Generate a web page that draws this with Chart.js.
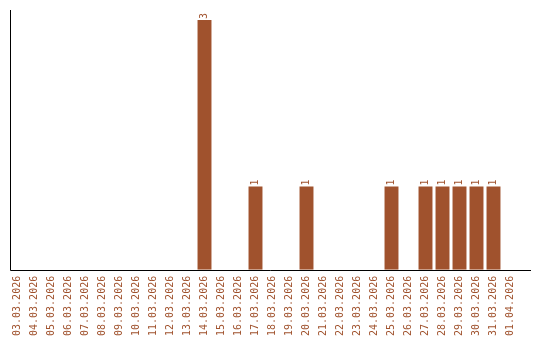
<!DOCTYPE html>
<html>
<head>
<meta charset="utf-8">
<script src="https://cdn.jsdelivr.net/npm/chart.js@4"></script>
<style>
    html, body { margin: 0; padding: 0; background: #fff; }
    #wrap { width: 540px; height: 340px; }
</style>
</head>
<body>
<div id="wrap"><canvas id="dateChart"></canvas></div>
<script>
// Data
const dates = [
    '03.03.2026', '04.03.2026', '05.03.2026', '06.03.2026', '07.03.2026',
    '08.03.2026', '09.03.2026', '10.03.2026', '11.03.2026', '12.03.2026',
    '13.03.2026', '14.03.2026', '15.03.2026', '16.03.2026', '17.03.2026',
    '18.03.2026', '19.03.2026', '20.03.2026', '21.03.2026', '22.03.2026',
    '23.03.2026', '24.03.2026', '25.03.2026', '26.03.2026', '27.03.2026',
    '28.03.2026', '29.03.2026', '30.03.2026', '31.03.2026', '01.04.2026'
];
const counts = [
    0, 0, 0, 0, 0,
    0, 0, 0, 0, 0,
    0, 3, 0, 0, 1,
    0, 0, 1, 0, 0,
    0, 0, 1, 0, 1,
    1, 1, 1, 1, 0
];

const barColor = '#A0522D';
const fontFamily = '"DejaVu Sans Mono", "Liberation Mono", monospace';

// Draw the value above each non-empty bar, rotated like the axis labels
const barValues = {
    id: 'barValues',
    afterDatasetsDraw(chart) {
        const ctx = chart.ctx;
        const meta = chart.getDatasetMeta(0);
        ctx.save();
        ctx.fillStyle = barColor;
        ctx.font = '10px ' + fontFamily;
        ctx.textAlign = 'left';
        ctx.textBaseline = 'middle';
        meta.data.forEach((bar, i) => {
            const value = chart.data.datasets[0].data[i];
            if (!value) return;
            ctx.save();
            ctx.translate(bar.x, bar.y - 1);
            ctx.rotate(-Math.PI / 2);
            ctx.fillText(String(value), 0, 0);
            ctx.restore();
        });
        ctx.restore();
    }
};

// Axis lines: the horizontal one runs on a bit past the last category
const axisLines = {
    id: 'axisLines',
    afterDraw(chart) {
        const { ctx, chartArea } = chart;
        const x0 = Math.round(chartArea.left) + 1.5;
        const y0 = Math.round(chartArea.bottom) + 0.5;
        ctx.save();
        ctx.strokeStyle = '#000';
        ctx.lineWidth = 1;
        ctx.beginPath();
        ctx.moveTo(x0, Math.round(chartArea.top));
        ctx.lineTo(x0, y0);
        ctx.lineTo(Math.round(chartArea.right) + 12, y0);
        ctx.stroke();
        ctx.restore();
    }
};

// Leave a little headroom above the tallest bar
const yMax = Math.max(...counts) * 1.04;

const ctx = document.getElementById('dateChart').getContext('2d');
const chart = new Chart(ctx, {
    type: 'bar',
    data: {
        labels: dates,
        datasets: [{
            data: counts,
            backgroundColor: barColor,
            borderWidth: 0,
            barPercentage: 0.82,
            categoryPercentage: 1.0
        }]
    },
    options: {
        responsive: true,
        maintainAspectRatio: false,
        animation: false,
        layout: {
            padding: { top: 10, left: 9, right: 21, bottom: -2 }
        },
        scales: {
            x: {
                grid: { display: false, drawTicks: false },
                border: { display: false },
                ticks: {
                    autoSkip: false,
                    minRotation: 90,
                    maxRotation: 90,
                    padding: 6,
                    color: barColor,
                    font: { family: fontFamily, size: 10 }
                }
            },
            y: {
                min: 0,
                max: yMax,
                grid: { display: false, drawTicks: false },
                border: { display: false },
                ticks: { display: false }
            }
        },
        plugins: {
            legend: { display: false },
            tooltip: { enabled: false }
        }
    },
    plugins: [barValues, axisLines]
});
</script>
</body>
</html>
